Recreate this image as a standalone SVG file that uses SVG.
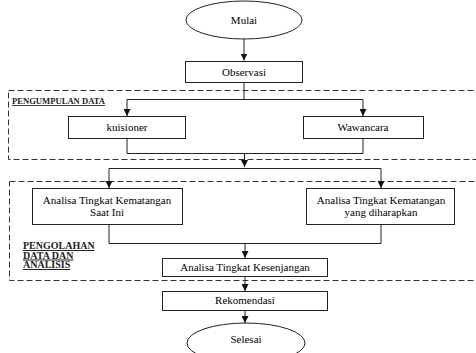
<svg xmlns="http://www.w3.org/2000/svg" width="476" height="353" viewBox="0 0 476 353">
<style>
.n{fill:#fff;stroke:#222;stroke-width:1}
.t{font-family:"Liberation Serif","Times New Roman","DejaVu Serif",serif;font-size:11px;fill:#000;text-anchor:middle}
.lb{font-family:"Liberation Serif","Times New Roman","DejaVu Serif",serif;font-weight:bold;text-decoration:underline;fill:#222}
.d{fill:none;stroke:#333;stroke-width:1;stroke-dasharray:6,3}
.c{fill:none;stroke:#222;stroke-width:1}
</style>
<defs>
<marker id="ah" viewBox="0 0 10 10" refX="10" refY="5" markerWidth="7" markerHeight="7" markerUnits="userSpaceOnUse" orient="auto">
<path d="M0,0 L10,5 L0,10 z" fill="#111"/>
</marker>
</defs>
<rect class="d" x="8.5" y="90.5" width="475" height="69"/>
<rect class="d" x="9.5" y="181.5" width="475" height="99"/>
<text class="lb" x="12" y="104" font-size="8.6">PENGUMPULAN DATA</text>
<text class="lb" font-size="10"><tspan x="23" y="249">PENGOLAHAN</tspan><tspan x="23" y="258.5">DATA DAN</tspan><tspan x="23" y="268">ANALISIS</tspan></text>
<g id="connectors">
<path class="c" d="M244,39 V60.5" marker-end="url(#ah)"/>
<path class="c" d="M244,82 V99.5 M127,99.5 H363"/>
<path class="c" d="M127,99.5 V116" marker-end="url(#ah)"/>
<path class="c" d="M363,99.5 V116" marker-end="url(#ah)"/>
<path class="c" d="M127,138 V153.5 H363 V138 M244.5,153.5 V167" marker-end="url(#ah)"/>
<path class="c" d="M109,168.5 H381"/>
<path class="c" d="M109,168.5 V188" marker-end="url(#ah)"/>
<path class="c" d="M381,168.5 V188" marker-end="url(#ah)"/>
<path class="c" d="M109,224 V243.5 H381 V224 M245,243.5 V258" marker-end="url(#ah)"/>
<path class="c" d="M245,276 V291" marker-end="url(#ah)"/>
<path class="c" d="M245,310 V323" marker-end="url(#ah)"/>
</g>
<g id="mulai"><ellipse class="n" cx="244" cy="20" rx="58" ry="19"/><text class="t" x="244" y="24">Mulai</text></g>
<g id="observasi"><rect class="n" x="185.5" y="61.5" width="117" height="21"/><text class="t" x="244" y="76">Observasi</text></g>
<g id="kuisioner"><rect class="n" x="68.5" y="116.5" width="117" height="22"/><text class="t" x="127" y="131">kuisioner</text></g>
<g id="wawancara"><rect class="n" x="303.5" y="116.5" width="120" height="22"/><text class="t" x="363" y="131">Wawancara</text></g>
<g id="analisa-saat-ini"><rect class="n" x="32.5" y="188.5" width="150" height="36"/><text class="t"><tspan x="107" y="204">Analisa Tingkat Kematangan</tspan><tspan x="107" y="216">Saat Ini</tspan></text></g>
<g id="analisa-diharapkan"><rect class="n" x="306.5" y="188.5" width="148" height="36"/><text class="t"><tspan x="381" y="204">Analisa Tingkat Kematangan</tspan><tspan x="381" y="216">yang diharapkan</tspan></text></g>
<g id="kesenjangan"><rect class="n" x="162.5" y="258.5" width="165" height="18"/><text class="t" x="245" y="271">Analisa Tingkat Kesenjangan</text></g>
<g id="rekomendasi"><rect class="n" x="162.5" y="291.5" width="165" height="19"/><text class="t" x="245" y="304">Rekomendasi</text></g>
<g id="selesai"><ellipse class="n" cx="246" cy="343" rx="59" ry="20"/><text class="t" x="246" y="343">Selesai</text></g>
</svg>
